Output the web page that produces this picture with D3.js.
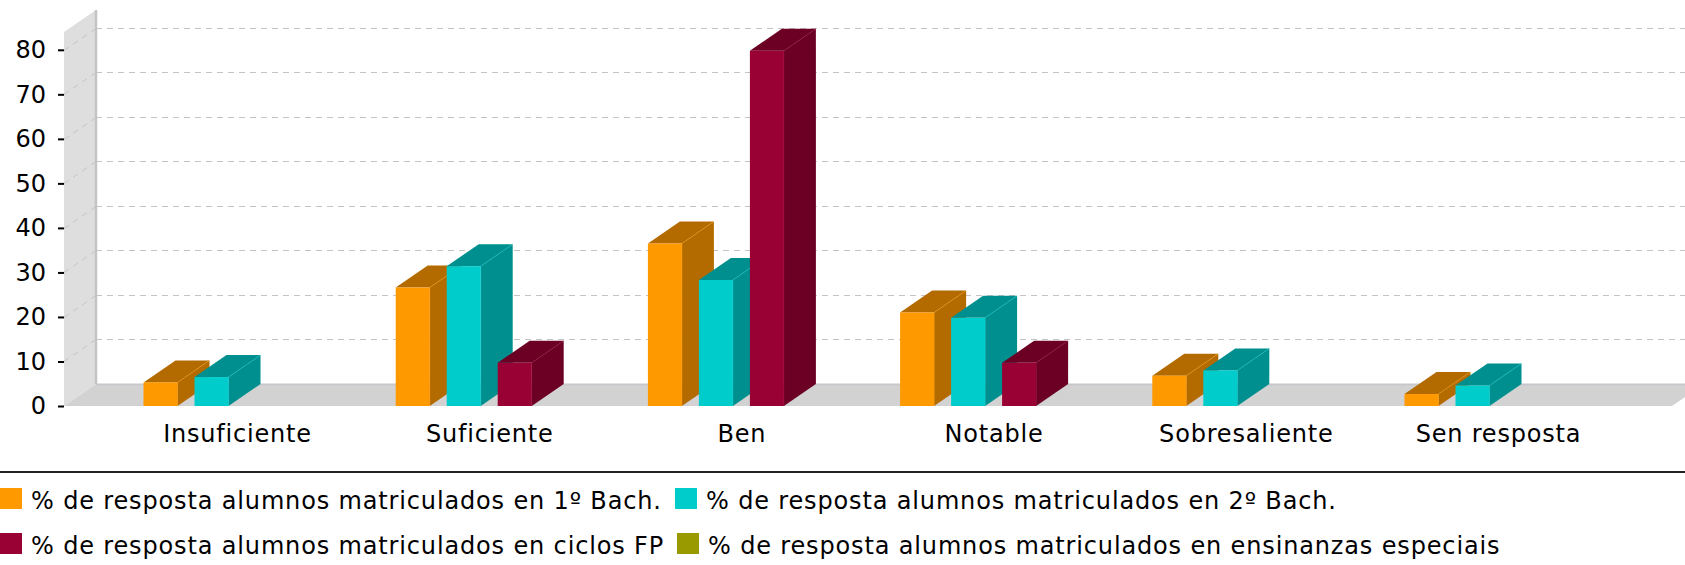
<!DOCTYPE html>
<html>
<head>
<meta charset="utf-8">
<script src="https://cdnjs.cloudflare.com/ajax/libs/d3/7.8.5/d3.min.js"></script>
<style>
  html, body { margin: 0; padding: 0; background: #fff; }
  svg { display: block; }
  text { font-family: "DejaVu Sans", sans-serif; fill: #000; }
  .axis text { font-size: 24px; }
  .x-axis text { letter-spacing: 0.8px; }
  .legend text { font-size: 24px; letter-spacing: 0.85px; }
</style>
</head>
<body>
<svg></svg>
<script>
var categories = ["Insuficiente", "Suficiente", "Ben", "Notable", "Sobresaliente", "Sen resposta"];
var seriesNames = [
  "% de resposta alumnos matriculados en 1º Bach.",
  "% de resposta alumnos matriculados en 2º Bach.",
  "% de resposta alumnos matriculados en ciclos FP",
  "% de resposta alumnos matriculados en ensinanzas especiais"
];
var bach1 = [5.3, 26.6, 36.5, 21, 6.8, 2.7];
var bach2 = [6.5, 31.4, 28.3, 19.8, 8, 4.6];
var ciclos = [0, 9.7, 79.8, 9.7, 0, 0];
var especiais = [0, 0, 0, 0, 0, 0];
var yTicks = [0, 10, 20, 30, 40, 50, 60, 70, 80];

var seriesValues = [bach1, bach2, ciclos, especiais];
var frontColors = ["#ff9900", "#00cccc", "#990033", "#999900"];
var darkColors = ["#b36b00", "#008f8f", "#6b0024", "#6b6b00"];

var width = 1685, height = 565;
var depthX = 32, depthY = 22;
var margin = {top: 32, right: 1672, bottom: 406, left: 64};

var svg = d3.select("svg").attr("width", width).attr("height", height);

var x = d3.scaleBand().domain(categories).range([margin.left, margin.right]).paddingInner(0).paddingOuter(0.188);
var y = d3.scaleLinear().domain([0, 84]).range([margin.bottom, margin.top]);

// 1 bar slot per series, also the empty ones
var x1 = d3.scaleBand().domain(d3.range(seriesNames.length)).range([-94, 93]).paddingInner(1 / 3).paddingOuter(0);

function poly(pts) { return pts.map(function(p) { return p.join(","); }).join(" "); }

// left wall and floor
svg.append("polygon")
    .attr("fill", "#dedede")
    .attr("points", poly([[margin.left, margin.bottom], [margin.left, margin.top], [margin.left + depthX, margin.top - depthY], [margin.left + depthX, margin.bottom - depthY]]));
svg.append("polygon")
    .attr("fill", "#d2d2d2")
    .attr("points", poly([[margin.left, margin.bottom], [margin.left + depthX, margin.bottom - depthY], [margin.right + depthX, margin.bottom - depthY], [margin.right, margin.bottom]]));
svg.append("line")
    .attr("x1", margin.left + depthX).attr("x2", margin.left + depthX)
    .attr("y1", margin.top - depthY).attr("y2", margin.bottom - depthY)
    .attr("stroke", "#c4c4c4").attr("stroke-width", 2.5);
svg.append("line")
    .attr("x1", margin.left + depthX).attr("x2", width)
    .attr("y1", margin.bottom - depthY + 0.5).attr("y2", margin.bottom - depthY + 0.5)
    .attr("stroke", "#c8c8cc").attr("stroke-width", 2);

// grid on the back and on the wall
var grid = svg.append("g")
    .attr("fill", "none")
    .attr("stroke", "#c4c4c4")
    .attr("stroke-width", 1)
    .attr("stroke-dasharray", "6,5");
yTicks.slice(1).forEach(function(t) {
  var gy = Math.round(y(t)) + 0.5;
  grid.append("line")
      .attr("x1", margin.left + depthX).attr("x2", width)
      .attr("y1", gy - depthY).attr("y2", gy - depthY);
  grid.append("line")
      .attr("x1", margin.left).attr("x2", margin.left + depthX)
      .attr("y1", gy).attr("y2", gy - depthY);
});

// bars
var bars = svg.append("g");
categories.forEach(function(c, i) {
  seriesValues.forEach(function(values, s) {
    var v = values[i];
    if (!v) return;
    var x0 = x(c) + x.bandwidth() / 2 + x1(s), x2 = x0 + x1.bandwidth(), yt = y(v), yb = y(0);
    var bar = bars.append("g");
    bar.append("polygon")
        .attr("fill", darkColors[s])
        .attr("points", poly([[x0, yt], [x0 + depthX, yt - depthY], [x2 + depthX, yt - depthY], [x2, yt]]));
    bar.append("polygon")
        .attr("fill", darkColors[s])
        .attr("points", poly([[x2, yt], [x2 + depthX, yt - depthY], [x2 + depthX, yb - depthY], [x2, yb]]));
    bar.append("rect")
        .attr("x", x0).attr("y", yt)
        .attr("width", x1.bandwidth()).attr("height", yb - yt)
        .attr("fill", frontColors[s]);
    bar.append("polyline")
        .attr("fill", "none")
        .attr("stroke", frontColors[s])
        .attr("stroke-opacity", 0.45)
        .attr("points", poly([[x2, yb], [x2, yt], [x2 + depthX, yt - depthY]]));
  });
});

// axes
var yAxis = svg.append("g")
    .attr("class", "axis")
    .attr("transform", "translate(" + margin.left + ",0)")
    .call(d3.axisLeft(y).tickValues(yTicks).tickSize(6).tickPadding(12));
yAxis.select(".domain").remove();
yAxis.selectAll("line").attr("stroke", "#000").attr("stroke-width", 2);

var xAxis = svg.append("g")
    .attr("class", "axis x-axis")
    .attr("transform", "translate(0," + margin.bottom + ")")
    .call(d3.axisBottom(x).tickSize(0).tickPadding(19));
xAxis.select(".domain").remove();

// legend
svg.append("rect").attr("x", 0).attr("y", 471).attr("width", width).attr("height", 2).attr("fill", "#222");

var legendX = [0, 675, 0, 677];
var legendY = [498, 498, 543, 543];
var legend = svg.append("g").attr("class", "legend");
seriesNames.forEach(function(name, s) {
  legend.append("rect")
      .attr("x", legendX[s]).attr("y", legendY[s] - 10)
      .attr("width", 22).attr("height", 21)
      .attr("fill", frontColors[s]);
  legend.append("text")
      .attr("x", legendX[s] + 31).attr("y", legendY[s] + 3)
      .attr("dy", "0.32em")
      .text(name);
});
</script>
</body>
</html>
